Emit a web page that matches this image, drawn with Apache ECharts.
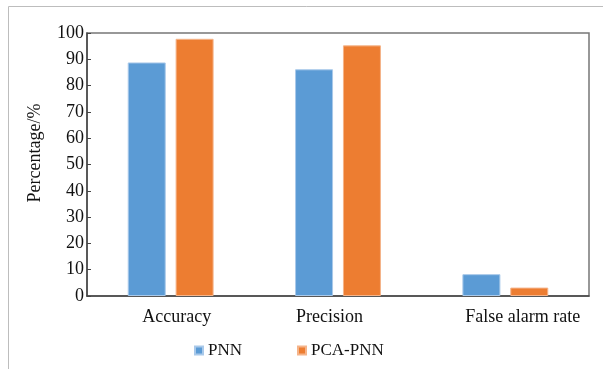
<!DOCTYPE html>
<html><head><meta charset="utf-8">
<script src="https://cdn.jsdelivr.net/npm/echarts@6/dist/echarts.min.js"></script>
<style>html,body{margin:0;padding:0;background:#fff}#c{width:603px;height:369px}</style>
</head><body><div id="c"></div>
<script>
const categories = ['Accuracy', 'Precision', 'False alarm rate'];
const pnn = [88.8, 86.2, 8.3];
const pcaPnn = [97.8, 95.3, 3.2];
const yTicks = [0, 10, 20, 30, 40, 50, 60, 70, 80, 90, 100];

const font = '"Liberation Serif", "Times New Roman", serif';
const labelStyle = { fontFamily: font, fontSize: 18, color: '#111' };
const chart = echarts.init(document.getElementById('c'));
chart.setOption({
  animation: false,
  textStyle: { fontFamily: font },
  graphic: [{
    type: 'rect', shape: { x: 8.5, y: 6.5, width: 700, height: 500 },
    style: { fill: 'none', stroke: '#bdbdbd', lineWidth: 1 }, silent: true, z: -1
  }],
  grid: { left: 87, right: 14, top: 33, bottom: 73, show: true, borderColor: '#777', borderWidth: 1.5, containLabel: false },
  legend: {
    bottom: 5, left: 189, itemWidth: 8, itemHeight: 8, itemGap: 55,
    icon: 'rect',
    textStyle: { fontFamily: font, fontSize: 17, color: '#111' },
    data: ['PNN', 'PCA-PNN']
  },
  xAxis: {
    type: 'category', data: categories,
    axisLine: { lineStyle: { color: '#444', width: 1.5 } },
    axisTick: { inside: true, length: 6, lineStyle: { color: '#444' } },
    axisLabel: {
      margin: 12,
      formatter: (v, i) => '{c' + i + '|' + v + '}',
      rich: {
        c0: Object.assign({ padding: [0, 0, 0, 12] }, labelStyle),
        c1: Object.assign({ padding: [0, 17, 0, 0] }, labelStyle),
        c2: Object.assign({ padding: [0, 0, 0, 35] }, labelStyle)
      }
    }
  },
  yAxis: {
    type: 'value', min: 0, max: 100, interval: 10,
    name: 'Percentage/%', nameLocation: 'middle', nameGap: 43, nameRotate: 90,
    nameTextStyle: { fontFamily: font, fontSize: 18, color: '#111', padding: [0, 0, 0, 23] },
    axisLine: { show: true, lineStyle: { color: '#444', width: 1.5 } },
    axisTick: { show: true, inside: true, length: 4, lineStyle: { color: '#444' } },
    splitLine: { show: false },
    axisLabel: { fontFamily: font, fontSize: 18, color: '#111', margin: 3,
      formatter: v => yTicks.includes(v) ? String(v) : '' }
  },
  series: [
    { name: 'PNN', type: 'bar', data: pnn, barWidth: 38, barGap: '26%',
      itemStyle: { color: '#5B9BD5', borderColor: '#a9c9ea', borderWidth: 1 } },
    { name: 'PCA-PNN', type: 'bar', data: pcaPnn, barWidth: 38,
      itemStyle: { color: '#ED7D31', borderColor: '#f5b48a', borderWidth: 1 } }
  ]
});
</script></body></html>
